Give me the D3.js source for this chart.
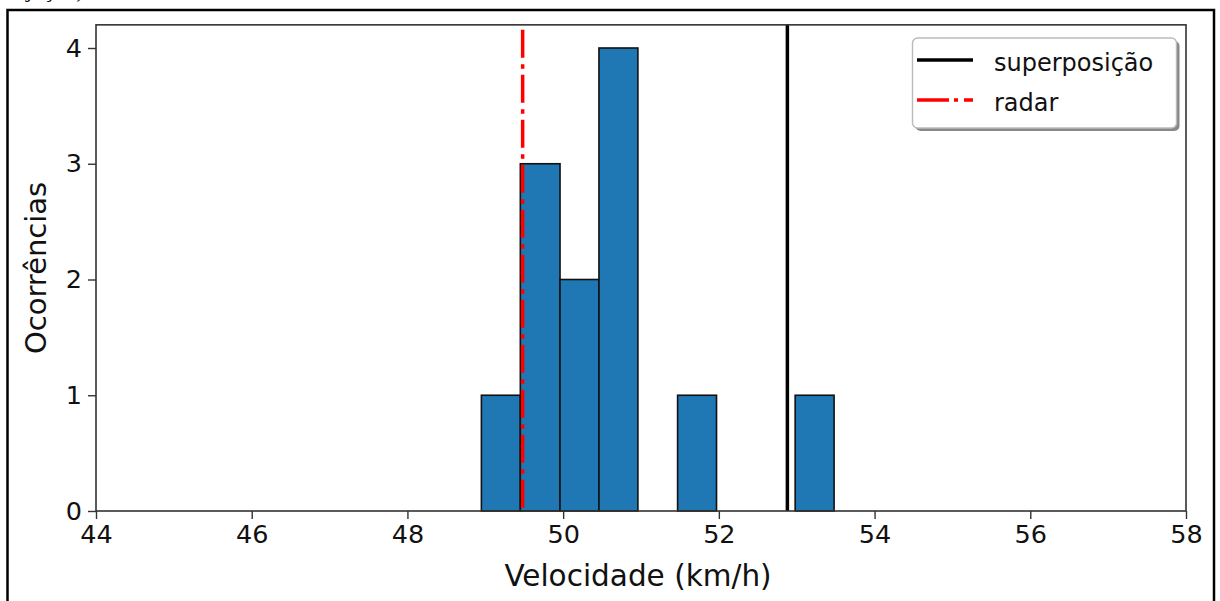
<!DOCTYPE html>
<html>
<head>
<meta charset="utf-8">
<script src="https://cdn.jsdelivr.net/npm/d3@7/dist/d3.min.js"></script>
<style>
  html, body { margin: 0; padding: 0; background: #fff; }
  svg { display: block; }
  text { font-family: "DejaVu Sans", sans-serif; fill: #111; }
</style>
</head>
<body>
<script>
// ---- data ----
const binEdges = [48.95, 49.45, 49.96, 50.46, 50.96, 51.47, 51.97, 52.47, 52.98, 53.48];
const counts   = [1, 3, 2, 4, 0, 1, 0, 0, 1];
const xTicks = [44, 46, 48, 50, 52, 54, 56, 58];
const yTicks = [0, 1, 2, 3, 4];
const superposicao = 52.88;
const radar = 49.48;
const legendLabels = ["superposição", "radar"];
const xLabel = "Velocidade (km/h)";
const yLabel = "Ocorrências";

const W = 1220, H = 601;
const plot = { left: 96, right: 1186, top: 24.85, bottom: 511 };

const svg = d3.select("body").append("svg").attr("width", W).attr("height", H);

// cut-off text of the surrounding document
svg.append("text").attr("x", -6).attr("y", -3)
  .style("font-family", "'Liberation Serif', serif").style("font-size", "24px")
  .text("projeção)");

// outer frame
svg.append("rect").attr("x", 7.5).attr("y", 10).attr("width", 1206.5).attr("height", 620)
  .attr("fill", "none").attr("stroke", "#000").attr("stroke-width", 2.5);

const x = d3.scaleLinear().domain([44, 58]).range([plot.left, plot.right]);
const y = d3.scaleLinear().domain([0, 4.2]).range([plot.bottom, plot.top]);

// bars
const bins = counts.map((c, i) => ({ x0: binEdges[i], x1: binEdges[i + 1], c }));
svg.append("g").selectAll("rect").data(bins.filter(d => d.c > 0)).join("rect")
  .attr("x", d => x(d.x0)).attr("width", d => x(d.x1) - x(d.x0))
  .attr("y", d => y(d.c)).attr("height", d => y(0) - y(d.c))
  .attr("fill", "#1f77b4").attr("stroke", "#111").attr("stroke-width", 1.6);

// vertical reference lines
svg.append("line").attr("x1", x(superposicao)).attr("x2", x(superposicao))
  .attr("y1", y(4.2)).attr("y2", y(0))
  .attr("stroke", "#000").attr("stroke-width", 3.5);
svg.append("line").attr("x1", x(radar)).attr("x2", x(radar))
  .attr("y1", y(4.2)).attr("y2", y(0))
  .attr("stroke", "#f00").attr("stroke-width", 3.5)
  .attr("stroke-dasharray", "28,6.5,4.5,6").attr("stroke-dashoffset", 40);

// spines
svg.append("rect").attr("x", plot.left).attr("y", plot.top)
  .attr("width", plot.right - plot.left).attr("height", plot.bottom - plot.top)
  .attr("fill", "none").attr("stroke", "#333").attr("stroke-width", 1.6);

// axes
const xAxis = d3.axisBottom(x).tickValues(xTicks).tickSize(8).tickPadding(6).tickFormat(d3.format("d"));
const gx = svg.append("g").attr("transform", `translate(0,${plot.bottom})`).call(xAxis);
gx.select(".domain").remove();
gx.selectAll(".tick line").attr("stroke", "#333").attr("stroke-width", 1.4);
gx.selectAll(".tick text").style("font-size", "25.5px").style("font-family", "'DejaVu Sans', sans-serif").attr("fill", "#111");

const yAxis = d3.axisLeft(y).tickValues(yTicks).tickSize(8).tickPadding(6).tickFormat(d3.format("d"));
const gy = svg.append("g").attr("transform", `translate(${plot.left},0)`).call(yAxis);
gy.select(".domain").remove();
gy.selectAll(".tick line").attr("stroke", "#333").attr("stroke-width", 1.4);
gy.selectAll(".tick text").style("font-size", "25.5px").style("font-family", "'DejaVu Sans', sans-serif").attr("fill", "#111");

// axis labels
svg.append("text").attr("x", (plot.left + plot.right) / 2 - 3).attr("y", 586)
  .attr("text-anchor", "middle").style("font-size", "29.5px").text(xLabel);
svg.append("text").attr("transform", `translate(46,${(plot.top + plot.bottom) / 2}) rotate(-90)`)
  .attr("text-anchor", "middle").style("font-size", "29px").text(yLabel);

// legend
const lg = svg.append("g");
lg.append("rect").attr("x", 915.5).attr("y", 41).attr("width", 264).attr("height", 90).attr("rx", 5)
  .attr("fill", "#888");
lg.append("rect").attr("x", 912.5).attr("y", 38).attr("width", 264).attr("height", 90).attr("rx", 5)
  .attr("fill", "#fff").attr("stroke", "#bbb").attr("stroke-width", 1.4);
const items = [
  { label: legendLabels[0], color: "#000", dash: null, yy: 60 },
  { label: legendLabels[1], color: "#f00", dash: "32,5,4,6", yy: 100 }
];
items.forEach(it => {
  const l = lg.append("line").attr("x1", 917).attr("x2", 973).attr("y1", it.yy).attr("y2", it.yy)
    .attr("stroke", it.color).attr("stroke-width", 3.5);
  if (it.dash) l.attr("stroke-dasharray", it.dash);
  lg.append("text").attr("x", 994).attr("y", it.yy + 11).style("font-size", "24px").attr("fill", "#222").text(it.label);
});
</script>
</body>
</html>
